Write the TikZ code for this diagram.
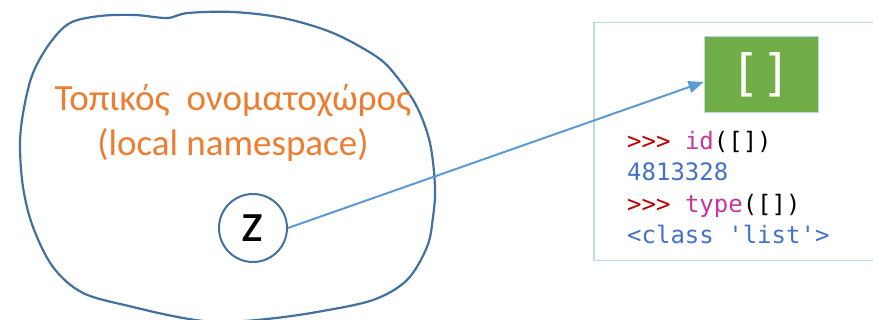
\documentclass[tikz,border=0pt]{standalone}
\usepackage{fontspec}
\setmainfont{Carlito}
\newfontfamily\codefont{DejaVu Sans Mono}
\usepackage{xcolor}
\usetikzlibrary{arrows.meta,positioning}

\definecolor{outline}{HTML}{41719C}
\definecolor{linkblue}{HTML}{5B9BD5}
\definecolor{panelblue}{HTML}{BDD7EE}
\definecolor{objgreen}{HTML}{70AD47}
\definecolor{nsorange}{HTML}{ED7D31}
\definecolor{prompt}{HTML}{C00000}
\definecolor{builtin}{HTML}{C7359E}
\definecolor{result}{HTML}{4472C4}

\begin{document}
\begin{tikzpicture}[x=1pt, y=-1pt,
    blob/.style={draw=outline, line width=2.2pt},
    varnode/.style={circle, draw=outline, line width=2pt, minimum size=68pt, inner sep=0pt, font=\fontsize{56}{56}\selectfont},
    object/.style={rectangle, draw=panelblue, line width=1pt, fill=objgreen, minimum width=114pt, minimum height=76pt, text=white, font=\codefont\fontsize{50}{50}\selectfont},
    panel/.style={rectangle, draw=panelblue, line width=1.5pt, minimum width=300pt, minimum height=238pt, anchor=north west},
    code/.style={align=left, inner sep=0pt, anchor=north west, font=\codefont\fontsize{24}{31.5}\selectfont},
    arrow/.style={draw=linkblue, line width=2pt, -{Triangle[length=15pt,width=12pt]}}]

    \useasboundingbox (0,0) rectangle (873,320);

    % namespace outline
    \draw[blob] plot[smooth cycle, tension=0.55] coordinates {
        (70,23) (100,16) (135,15) (167,18) (188,13) (233,12) (283,18)
        (333,33) (377,57) (397,77) (417,107) (430,143) (435,187)
        (433,217) (427,247) (407,280) (373,300) (317,312) (267,319)
        (220,322) (183,318) (133,307) (83,293) (53,267) (33,227)
        (23,187) (20,143) (24,108) (33,73) (50,43)};

    \node[text=nsorange, align=center, font=\fontsize{37}{45}\selectfont] (title) at (233,123)
        {Τοπικός\ \ ονοματοχώρος\\(local namespace)};
    \node[varnode] (z) at (253,228) {z};

    % object side
    \node[panel] (shell) at (593,22) {};
    \node[object] (list) at (761,75) {[]};
    \node[code] (session) at (627,131) {%
        \textcolor{prompt}{>>>} \textcolor{builtin}{id}([])\\
        \textcolor{result}{4813328}\\
        \textcolor{prompt}{>>>} \textcolor{builtin}{type}([])\\
        \textcolor{result}{<class 'list'>}};

    \draw[arrow] (z.east) -- ([yshift=-7pt]list.west);

\end{tikzpicture}
\end{document}
